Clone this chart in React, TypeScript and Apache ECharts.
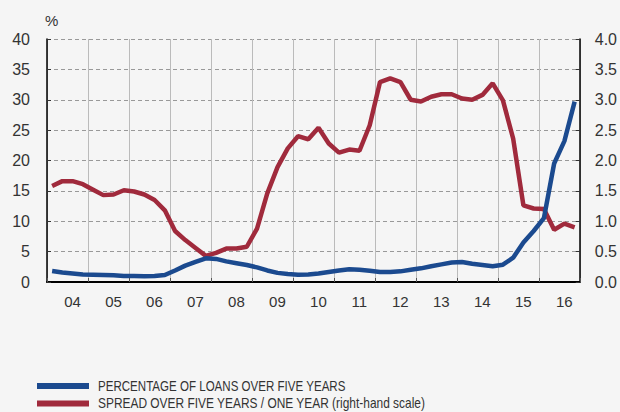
import React, { useEffect, useRef } from "react";
import * as echarts from "echarts";

const years = ["04", "05", "06", "07", "08", "09", "10", "11", "12", "13", "14", "15", "16"];
const quarters: string[] = [];
for (const y of years) for (const q of [1, 2, 3, 4]) quarters.push(`${y}Q${q}`);

const loansOverFiveYears = [
  1.8, 1.55, 1.4, 1.25, 1.2, 1.15, 1.1, 1.0, 1.0, 0.95, 1.0, 1.15,
  1.9, 2.7, 3.3, 3.9, 3.8, 3.4, 3.1, 2.8, 2.4, 1.9, 1.5, 1.3,
  1.2, 1.25, 1.4, 1.65, 1.9, 2.1, 2.0, 1.85, 1.65, 1.65, 1.75, 2.0,
  2.25, 2.6, 2.9, 3.2, 3.3, 3.0, 2.8, 2.6, 2.85, 4.0, 6.5, 8.4,
  10.5, 19.5, 23.2, 29.7,
];

const spreadFiveOne = [
  1.58, 1.66, 1.66, 1.61, 1.52, 1.43, 1.44, 1.51, 1.49, 1.44, 1.35, 1.18,
  0.84, 0.69, 0.56, 0.43, 0.48, 0.55, 0.55, 0.58, 0.88, 1.46, 1.89, 2.2,
  2.4, 2.35, 2.54, 2.28, 2.13, 2.18, 2.16, 2.58, 3.29, 3.35, 3.29, 3.0,
  2.97, 3.05, 3.09, 3.09, 3.02, 3.0, 3.08, 3.27, 2.99, 2.36, 1.26, 1.21,
  1.2, 0.86, 0.96, 0.9,
];

const seriesNames = [
  "PERCENTAGE OF LOANS OVER FIVE YEARS",
  "SPREAD OVER FIVE YEARS / ONE YEAR (right-hand scale)",
];
const seriesColors = ["#1b4a8f", "#a02a3c"];

const FONT = '"Liberation Sans", Arial, Helvetica, sans-serif';

export default function App() {
  const ref = useRef<HTMLDivElement>(null);
  useEffect(() => {
    if (!ref.current) return;
    const chart = echarts.init(ref.current, undefined, { renderer: "svg" });
    const legendRows = [386, 403.5];
    const legendScale = [0.826, 0.852];
    const legendGraphics: any[] = [];
    seriesNames.forEach((name, i) => {
      legendGraphics.push({
        type: "rect",
        shape: { x: 37, y: legendRows[i] - 3, width: 52, height: 6 },
        style: { fill: seriesColors[i] },
        silent: true,
      });
      legendGraphics.push({
        type: "text",
        x: 98,
        y: legendRows[i],
        scaleX: legendScale[i],
        style: {
          text: name,
          font: `14px ${FONT}`,
          fill: "#333",
          textVerticalAlign: "middle",
          verticalAlign: "middle",
        },
        silent: true,
      });
    });
    chart.setOption({
      animation: false,
      backgroundColor: "#f5f5f5",
      textStyle: { fontFamily: FONT },
      grid: { left: 47, right: 40, top: 39, bottom: 130, containLabel: false },
      graphic: legendGraphics,
      xAxis: [
        {
          type: "category",
          data: years,
          boundaryGap: true,
          axisLine: { show: true, lineStyle: { color: "#000", width: 2 } },
          axisTick: { show: true, inside: true, length: 4, lineStyle: { color: "#555" } },
          axisLabel: { fontSize: 15, color: "#333", margin: 12, padding: [0, 0, 0, 10] },
          splitLine: { show: true, lineStyle: { color: "#bbb", width: 1, type: "solid" } },
        },
        {
          type: "category",
          data: quarters,
          boundaryGap: true,
          show: false,
          position: "bottom",
        },
      ],
      yAxis: [
        {
          type: "value",
          min: 0,
          max: 40,
          interval: 5,
          name: "%",
          nameLocation: "end",
          nameGap: 11,
          nameTextStyle: { fontSize: 15, color: "#333", align: "left", padding: [0, 0, 0, -2] },
          axisLine: { show: true, lineStyle: { color: "#000", width: 1.5 } },
          axisTick: { show: true, inside: true, length: 4, lineStyle: { color: "#333" } },
          axisLabel: { fontSize: 16, color: "#333", margin: 17 },
          splitLine: { show: true, lineStyle: { color: "#999", type: [4, 3], width: 1 } },
        },
        {
          type: "value",
          min: 0,
          max: 4,
          interval: 0.5,
          position: "right",
          axisLine: { show: true, lineStyle: { color: "#000", width: 1.5 } },
          axisTick: { show: true, inside: true, length: 4, lineStyle: { color: "#333" } },
          axisLabel: { fontSize: 16, color: "#333", margin: 15, formatter: (v: number) => v.toFixed(1) },
          splitLine: { show: false },
        },
      ],
      series: [
        {
          name: seriesNames[0],
          type: "line",
          xAxisIndex: 1,
          yAxisIndex: 0,
          data: loansOverFiveYears,
          showSymbol: false,
          lineStyle: { color: seriesColors[0], width: 4.5 },
          itemStyle: { color: seriesColors[0] },
          z: 3,
        },
        {
          name: seriesNames[1],
          type: "line",
          xAxisIndex: 1,
          yAxisIndex: 1,
          data: spreadFiveOne,
          showSymbol: false,
          lineStyle: { color: seriesColors[1], width: 4.5 },
          itemStyle: { color: seriesColors[1] },
          z: 2,
        },
      ],
    });
    return () => chart.dispose();
  }, []);
  return (
    <div
      ref={ref}
      style={{ position: "fixed", left: 0, top: 0, width: 620, height: 412, background: "#f5f5f5" }}
    />
  );
}
